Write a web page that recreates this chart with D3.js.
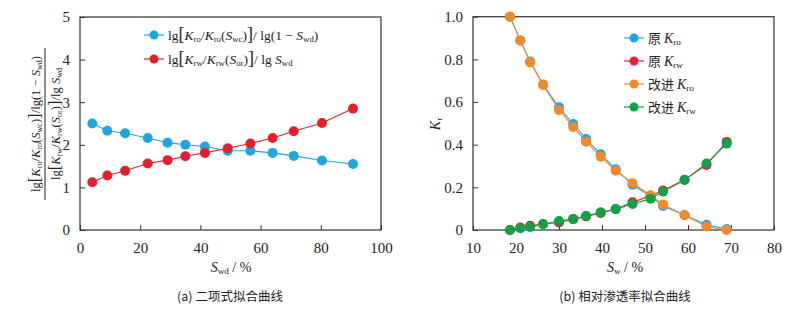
<!DOCTYPE html>
<html>
<head>
<meta charset="utf-8">
<script src="https://cdn.jsdelivr.net/npm/d3@7"></script>
<style>
  body { margin: 0; background: #fff; }
  svg { display: block; }
  text { font-family: "Liberation Serif", "DejaVu Serif", serif; fill: #222; }
  .cjk { font-family: "Noto Sans CJK SC", sans-serif; }
</style>
</head>
<body>
<svg id="chart" width="801" height="316"></svg>
<script>
// (a) binomial fit
var swdA = [4.1, 9.1, 15, 22.5, 29.1, 35, 41.5, 49.1, 56.6, 64, 71, 80.4, 90.7];
var oilRatio = [2.50, 2.33, 2.27, 2.16, 2.05, 2.00, 1.96, 1.86, 1.86, 1.81, 1.74, 1.63, 1.55];
var waterRatio = [1.12, 1.28, 1.39, 1.56, 1.64, 1.73, 1.81, 1.92, 2.03, 2.16, 2.32, 2.51, 2.85];

// (b) relative permeability
var swB = [18.6, 21.0, 23.3, 26.3, 30.0, 33.3, 36.3, 39.7, 43.2, 47.1, 51.3, 54.2, 59.2, 64.3, 69.0];
var kroOrig = [1.0, 0.889, 0.79, 0.682, 0.575, 0.497, 0.427, 0.355, 0.285, 0.212, 0.158, 0.113, 0.07, 0.025, 0.005];
var krwOrig = [0.0, 0.012, 0.02, 0.028, 0.035, 0.05, 0.064, 0.08, 0.098, 0.13, 0.16, 0.185, 0.236, 0.305, 0.413];
var kroNew = [1.0, 0.889, 0.786, 0.68, 0.563, 0.483, 0.414, 0.344, 0.278, 0.219, 0.163, 0.12, 0.069, 0.016, 0.0];
var krwNew = [0.0, 0.008, 0.014, 0.027, 0.042, 0.052, 0.066, 0.083, 0.098, 0.122, 0.147, 0.18, 0.234, 0.312, 0.405];

var ticksA_y = [0, 1, 2, 3, 4, 5];
var ticksA_x = [0, 20, 40, 60, 80, 100];
var ticksB_y = [0, 0.2, 0.4, 0.6, 0.8, 1.0];
var ticksB_x = [10, 20, 30, 40, 50, 60, 70, 80];

var BLUE = "#1fa6df", RED = "#e3202f", ORANGE = "#f5892a", GREEN = "#13a04b";
var SERIF = "Liberation Serif";

var svg = d3.select("#chart");

function frame(g, x, y, xt, yt, yfmt) {
  var w = x.range()[1] - x.range()[0], h = y.range()[0] - y.range()[1];
  g.append("g").attr("transform", "translate(0," + y.range()[0] + ")")
    .call(d3.axisBottom(x).tickValues(xt).tickSize(-5).tickPadding(12).tickFormat(d3.format("d")))
    .attr("font-family", SERIF).attr("font-size", 15)
    .call(a => a.select(".domain").remove());
  g.append("g").attr("transform", "translate(" + x.range()[0] + ",0)")
    .call(d3.axisLeft(y).tickValues(yt).tickSize(-5).tickPadding(10).tickFormat(yfmt))
    .attr("font-family", SERIF).attr("font-size", 15)
    .call(a => a.select(".domain").remove());
  g.selectAll(".tick line").attr("stroke", "#333");
  g.selectAll(".tick text").attr("fill", "#222");
  g.append("rect").attr("x", x.range()[0]).attr("y", y.range()[1])
    .attr("width", w).attr("height", h)
    .attr("fill", "none").attr("stroke", "#333").attr("stroke-width", 1.2);
}

function series(g, x, y, xs, ys, color) {
  var pts = xs.map((d, i) => [d, ys[i]]);
  g.append("path").datum(pts)
    .attr("fill", "none").attr("stroke", color).attr("stroke-width", 1.1)
    .attr("d", d3.line().x(d => x(d[0])).y(d => y(d[1])));
  g.selectAll(null).data(pts).join("circle")
    .attr("cx", d => x(d[0])).attr("cy", d => y(d[1])).attr("r", 5)
    .attr("fill", color);
}

function legendMark(g, lx, ly, color) {
  g.append("line").attr("x1", lx - 10).attr("x2", lx + 10).attr("y1", ly).attr("y2", ly)
    .attr("stroke", color).attr("stroke-width", 1.2);
  g.append("circle").attr("cx", lx).attr("cy", ly).attr("r", 4.5).attr("fill", color);
}

// small helper: append tspans [text, baseline-shift, italic]
function rich(t, parts, size) {
  parts.forEach(p => {
    var ts = t.append("tspan").text(p[0]);
    if (p[2]) ts.style("font-style", "italic");
    if (p[1] === "sub") ts.attr("baseline-shift", "-25%").style("font-size", (size * 0.65) + "px");
    if (p[1] === "big") ts.style("font-size", (size * 1.35) + "px");
  });
}

// ---------- panel (a)
var xA = d3.scaleLinear().domain([0, 100]).range([80, 381]);
var yA = d3.scaleLinear().domain([0, 5]).range([230, 17]);
var gA = svg.append("g");
frame(gA, xA, yA, ticksA_x, ticksA_y, d3.format("d"));
series(gA, xA, yA, swdA, oilRatio, BLUE);
series(gA, xA, yA, swdA, waterRatio, RED);

legendMark(gA, 154, 35, BLUE);
legendMark(gA, 154, 59, RED);
var lt1 = gA.append("text").attr("x", 168).attr("y", 40).style("font-size", "13.5px");
rich(lt1, [["lg"], ["[", "big"], ["K", null, 1], ["ro", "sub"], ["/"], ["K", null, 1], ["ro", "sub"], ["("], ["S", null, 1], ["wc", "sub"], [")"], ["]", "big"], ["/"], [" lg(1 − "], ["S", null, 1], ["wd", "sub"], [")"]], 13.5);
var lt2 = gA.append("text").attr("x", 168).attr("y", 64).style("font-size", "13.5px");
rich(lt2, [["lg"], ["[", "big"], ["K", null, 1], ["rw", "sub"], ["/"], ["K", null, 1], ["rw", "sub"], ["("], ["S", null, 1], ["or", "sub"], [")"], ["]", "big"], ["/"], [" lg "], ["S", null, 1], ["wd", "sub"]], 13.5);

// fraction y label
var fy = gA.append("g").attr("transform", "translate(45,124) rotate(-90)");
fy.append("line").attr("x1", -76).attr("x2", 76).attr("y1", 0).attr("y2", 0)
  .attr("stroke", "#222").attr("stroke-width", 1);
var num = fy.append("text").attr("text-anchor", "middle").attr("y", -5).style("font-size", "12.5px");
rich(num, [["lg"], ["[", "big"], ["K", null, 1], ["ro", "sub"], ["/"], ["K", null, 1], ["ro", "sub"], ["("], ["S", null, 1], ["wc", "sub"], [")"], ["]", "big"], ["/"], ["lg(1 − "], ["S", null, 1], ["wd", "sub"], [")"]], 12.5);
var den = fy.append("text").attr("text-anchor", "middle").attr("y", 15).style("font-size", "12.5px");
rich(den, [["lg"], ["[", "big"], ["K", null, 1], ["rw", "sub"], ["/"], ["K", null, 1], ["rw", "sub"], ["("], ["S", null, 1], ["or", "sub"], [")"], ["]", "big"], ["/"], ["lg "], ["S", null, 1], ["wd", "sub"]], 12.5);

var xlA = gA.append("text").attr("x", 231).attr("y", 272).attr("text-anchor", "middle").style("font-size", "14px");
rich(xlA, [["S", null, 1], ["wd", "sub"], [" / %"]], 14);
gA.append("text").attr("class", "cjk").attr("x", 230).attr("y", 301).attr("text-anchor", "middle")
  .style("font-size", "12.5px").text("(a) 二项式拟合曲线");

// ---------- panel (b)
var xB = d3.scaleLinear().domain([10, 80]).range([473, 774]);
var yB = d3.scaleLinear().domain([0, 1]).range([230, 16.7]);
var gB = svg.append("g");
frame(gB, xB, yB, ticksB_x, ticksB_y, d => d === 0 ? "0" : d3.format(".1f")(d));
series(gB, xB, yB, swB, kroOrig, BLUE);
series(gB, xB, yB, swB, krwOrig, RED);
series(gB, xB, yB, swB, kroNew, ORANGE);
series(gB, xB, yB, swB, krwNew, GREEN);

var legB = [["原 ", "ro", BLUE], ["原 ", "rw", RED], ["改进 ", "ro", ORANGE], ["改进 ", "rw", GREEN]];
legB.forEach((d, i) => {
  var ly = 38 + i * 23;
  legendMark(gB, 634, ly, d[2]);
  var t = gB.append("text").attr("x", 648).attr("y", ly + 5).style("font-size", "14px");
  t.append("tspan").style("font-family", "'Noto Sans CJK SC', sans-serif").style("font-size", "13px").text(d[0]);
  rich(t, [["K", null, 1], [d[1], "sub"]], 14);
});

var ylB = gB.append("text").attr("transform", "translate(440,124) rotate(-90)")
  .attr("text-anchor", "middle").style("font-size", "14px");
rich(ylB, [["K", null, 1], ["r", "sub"]], 14);

var xlB = gB.append("text").attr("x", 625).attr("y", 272).attr("text-anchor", "middle").style("font-size", "14px");
rich(xlB, [["S", null, 1], ["w", "sub"], [" / %"]], 14);
gB.append("text").attr("class", "cjk").attr("x", 625).attr("y", 301).attr("text-anchor", "middle")
  .style("font-size", "12.5px").text("(b) 相对渗透率拟合曲线");
</script>
</body>
</html>
